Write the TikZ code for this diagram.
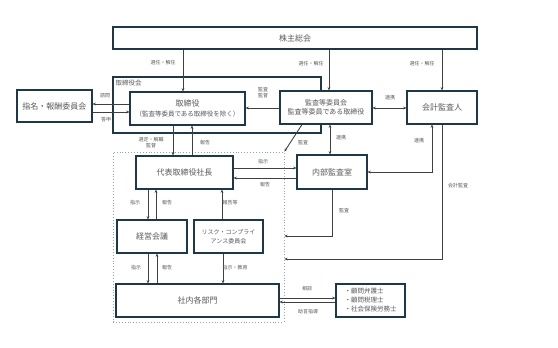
\documentclass[tikz,border=0pt]{standalone}
\usepackage{fontspec}
\setmainfont{Noto Sans CJK JP}
\usetikzlibrary{arrows.meta,calc}
\definecolor{boxc}{HTML}{1F3847}
\definecolor{linec}{HTML}{404040}
\definecolor{txtc}{HTML}{595959}
\definecolor{dotc}{HTML}{8EA4B0}
\begin{document}
\begin{tikzpicture}[x=1pt,y=-1pt,
 box/.style={draw=boxc, fill=white, line width=1.2pt, inner sep=1pt, text=txtc, font=\fontsize{8}{10}\selectfont, align=center},
 conn/.style={draw=linec, line width=0.9pt, -{Stealth[length=3.2pt,width=2.8pt]}},
 conntwo/.style={draw=linec, line width=0.9pt, {Stealth[length=3.2pt,width=2.8pt]}-{Stealth[length=3.2pt,width=2.8pt]}},
 lab/.style={font=\fontsize{5}{6}\selectfont, text=txtc, inner sep=0pt, align=center}]
\useasboundingbox (0,0) rectangle (558,348);
% containers
\node (dot) [draw=dotc, dotted, line width=0.9pt, minimum width=171pt, minimum height=170pt, inner sep=0pt] at (198.5,237) {};
\node (board) [draw=boxc, line width=1.2pt, minimum width=208pt, minimum height=56pt, inner sep=0pt] at (217,105) {};
\node (boardlab) [anchor=north west, inner sep=0pt, text=txtc, font=\fontsize{6.5}{8}\selectfont] at ($(board.north west)+(3,3)$) {取締役会};
% boxes
\node (sh) [box, minimum width=364pt, minimum height=22pt] at (295,38) {株主総会};
\node (tori) [box, minimum width=115pt, minimum height=33pt] at (187.5,108.5) {取締役\\{\fontsize{6.5}{8}\selectfont （監査等委員である取締役を除く）}};
\node (shimei) [box, minimum width=75pt, minimum height=32pt] at (54.5,106) {指名・報酬委員会};
\node (kansa) [box, minimum width=92pt, minimum height=33pt, font=\fontsize{7}{9.5}\selectfont] at (326,107.5) {監査等委員会\\監査等委員である取締役};
\node (kaikei) [box, minimum width=70pt, minimum height=33pt] at (442,107.5) {会計監査人};
\node (pres) [box, minimum width=97pt, minimum height=33pt] at (184.5,172.5) {代表取締役社長};
\node (naibu) [box, minimum width=70pt, minimum height=34pt] at (332,172) {内部監査室};
\node (keiei) [box, minimum width=70pt, minimum height=33pt] at (152,236.5) {経営会議};
\node (risk) [box, minimum width=69pt, minimum height=33pt, font=\fontsize{6}{9}\selectfont] at (228.5,236.5) {リスク・コンプライ\\アンス委員会};
\node (shanai) [box, minimum width=163pt, minimum height=33pt] at (197.5,300.5) {社内各部門};
\node (komon) [box, minimum width=69pt, minimum height=33pt, align=left, font=\fontsize{6.5}{9}\selectfont] at (370.5,300.5) {・顧問弁護士\\・顧問税理士\\・社会保険労務士};
% connectors
\draw[conn] (sh.south -| 183,0) -- (tori.north -| 183,0);
\draw[conn] (sh.south -| 329,0) -- (kansa.north -| 329,0);
\draw[conn] (sh.south -| 442,0) -- (kaikei.north);
\draw[conn] (tori.west |- 0,104) -- (shimei.east |- 0,104);
\draw[conn] (shimei.east |- 0,112) -- (tori.west |- 0,112);
\draw[conn] (kansa.west |- 0,108) -- (tori.east |- 0,108);
\draw[conntwo] (kansa.east |- 0,108) -- (kaikei.west |- 0,108);
\draw[conntwo] (kansa.south -| 330,0) -- (naibu.north -| 330,0);
\draw[conn] (kansa.south -| 302,0) -- (dot.north east);
\draw[conn] (tori.south -| 173,0) -- (pres.north -| 173,0);
\draw[conn] (pres.north -| 192,0) -- (tori.south -| 192,0);
\draw[conn] (pres.east |- 0,168) -- (naibu.west |- 0,168);
\draw[conn] (naibu.west |- 0,178) -- (pres.east |- 0,178);
\draw[conntwo] (naibu.east) -| (kaikei.south -| 432,0);
\draw[conn] (kaikei.south) |- (dot.east |- 0,259);
\draw[conn] (naibu.south) |- (dot.east |- 0,236);
\draw[conn] (pres.south -| 148,0) -- (keiei.north -| 148,0);
\draw[conn] (keiei.north -| 156,0) -- (pres.south -| 156,0);
\draw[conn] (risk.north -| 222,0) -- (pres.south -| 222,0);
\draw[conn] (keiei.south -| 148,0) -- (shanai.north -| 148,0);
\draw[conn] (shanai.north -| 157,0) -- (keiei.south -| 157,0);
\draw[conn] (risk.south -| 223,0) -- (shanai.north -| 223,0);
\draw[conn] (shanai.east |- 0,298) -- (komon.west |- 0,298);
\draw[conn] (komon.west |- 0,302) -- (shanai.east |- 0,302);
% labels
\node[lab] (l1) at (163,63) {選任・解任};
\node[lab] (l2) at (311,64) {選任・解任};
\node[lab] (l3) at (422,64) {選任・解任};
\node[lab] (l4) at (105,96) {諮問};
\node[lab] (l5) at (106,120) {答申};
\node[lab] (l6) at (263,93) {監査\\監督};
\node[lab] (l7) at (390,98) {連携};
\node[lab] (l8) at (341,138) {連携};
\node[lab] (l9) at (303,143) {監査};
\node[lab] (l10) at (151,143) {選定・解職\\監督};
\node[lab] (l11) at (205,143) {報告};
\node[lab] (l12) at (263,162) {指示};
\node[lab] (l13) at (265,185) {報告};
\node[lab] (l14) at (419,141) {連携};
\node[lab] (l15) at (458,186) {会計監査};
\node[lab] (l16) at (344,211) {監査};
\node[lab] (l17) at (135,203) {指示};
\node[lab] (l18) at (167,203) {報告};
\node[lab] (l19) at (230,203) {報告等};
\node[lab] (l20) at (136,268) {指示};
\node[lab] (l21) at (167,268) {報告};
\node[lab] (l22) at (235,268) {指示・教育};
\node[lab] (l23) at (307,289) {相談};
\node[lab] (l24) at (308,312) {助言指導};
\end{tikzpicture}
\end{document}
